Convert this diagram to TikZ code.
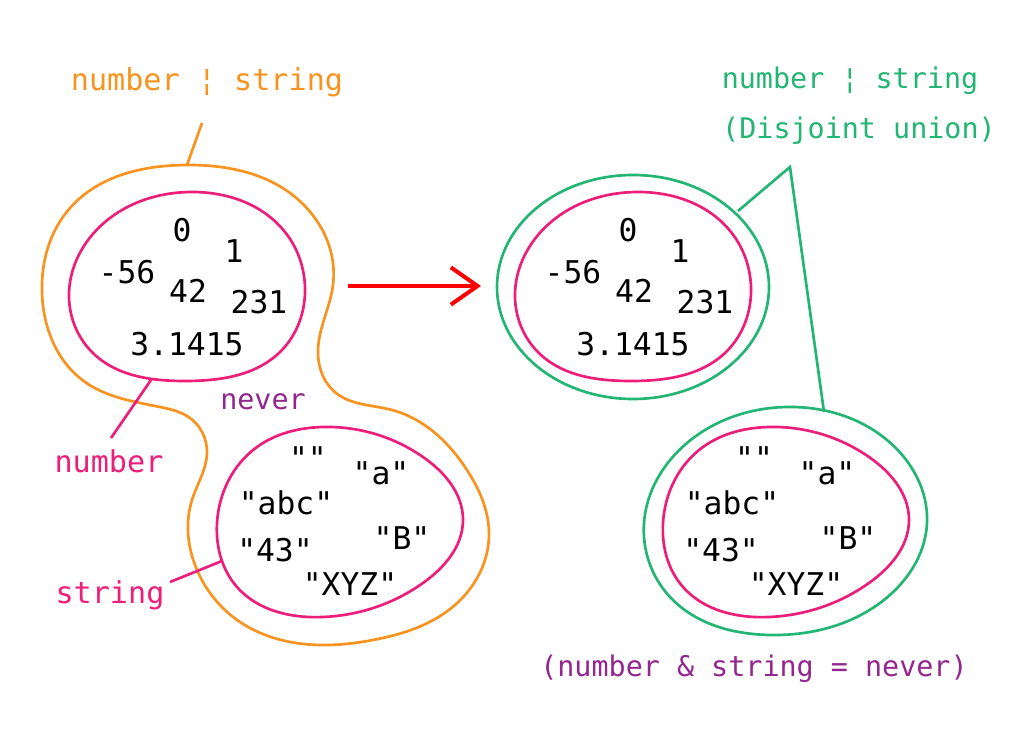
\documentclass[tikz,border=0pt]{standalone}
\usepackage{fontspec}
\newfontfamily\dmono{DejaVu Sans Mono}
\usetikzlibrary{arrows.meta,hobby}
\definecolor{orng}{RGB}{247,147,30}
\definecolor{pnk}{RGB}{237,30,121}
\definecolor{grn}{RGB}{34,181,115}
\definecolor{prp}{RGB}{147,39,143}
\tikzset{
  val/.style={font=\dmono\fontsize{23.5}{28}\selectfont, text=black, inner sep=0pt},
  lbl/.style={font=\dmono\fontsize{22.6}{27}\selectfont, inner sep=0pt},
  slbl/.style={font=\dmono\fontsize{21.3}{26}\selectfont, inner sep=0pt},
  outline/.style={line width=2pt},
  pointer/.style={line width=2pt},
}
\begin{document}
\begin{tikzpicture}[x=0.75pt,y=-0.75pt]
\useasboundingbox (0,0) rectangle (1033,730);

% ---------- left: union ----------
\draw[orng,outline,use Hobby shortcut,closed=true]
 (187,165) .. (290,193) .. (333,285) .. (318,350) .. (336,393) .. (392,410) ..
 (467,470) .. (489,535) .. (455,605) .. (373,640) .. (320,645) .. (240,622) ..
 (195,565) .. (192,500) .. (207,452) .. (190,418) .. (160,407) .. (85,382) ..
 (42,293) .. (70,208);

\draw[pnk,outline,use Hobby shortcut,closed=true]
 (190,192) .. (285,232) .. (305,287) .. (280,352) .. (185,381) .. (95,355) ..
 (69,297) .. (105,222);

\draw[pnk,outline,use Hobby shortcut,closed=true]
 (323,427) .. (423,457) .. (463,520) .. (423,583) .. (323,617) .. (237,587) ..
 (217,523) .. (257,447);

\node[val] (n0) at (182,230) {0};
\node[val] (n1) at (234,251) {1};
\node[val] (n56) at (127,272) {-56};
\node[val] (n42) at (188,291) {42};
\node[val] (n231) at (259,302) {231};
\node[val] (npi) at (187,344) {3.1415};

\node[val] (se) at (308,458) {""};
\node[val] (sa) at (381,473) {"a"};
\node[val] (sabc) at (286,503) {"abc"};
\node[val] (sB) at (402,538) {"B"};
\node[val] (s43) at (275,550) {"43"};
\node[val] (sxyz) at (350,584) {"XYZ"};

\node[lbl,text=orng] (ulab) at (207,82) {number ¦ string};
\coordinate (uc1) at (202,123);
\coordinate (uc2) at (187,165);
\draw[orng,pointer] (uc1) -- (uc2);

\node[lbl,text=pnk] (numlab) at (109,461) {number};
\coordinate (nc1) at (111,438);
\coordinate (nc2) at (151,380);
\draw[pnk,pointer] (nc1) -- (nc2);

\node[lbl,text=pnk] (strlab) at (110,595) {string};
\coordinate (sc1) at (170,582);
\coordinate (sc2) at (222,561);
\draw[pnk,pointer] (sc1) -- (sc2);

\node[slbl,text=prp] (neverlab) at (263,402) {never};

% ---------- arrow ----------
\coordinate (a1) at (348,286);
\coordinate (a2) at (481,286);
\draw[red,line width=3pt,-{Straight Barb[length=20pt,width=28pt]}] (a1) -- (a2);

% ---------- right: disjoint union ----------
\draw[grn,outline] (633,287) ellipse [x radius=136, y radius=112];
\draw[grn,outline,use Hobby shortcut,closed=true]
 (787,407) .. (887,440) .. (927,523) .. (880,603) .. (770,635) .. (670,597) ..
 (644,523) .. (687,443);

\begin{scope}[shift={(446,0)}]
\draw[pnk,outline,use Hobby shortcut,closed=true]
 (190,192) .. (285,232) .. (305,287) .. (280,352) .. (185,381) .. (95,355) ..
 (69,297) .. (105,222);
\draw[pnk,outline,use Hobby shortcut,closed=true]
 (323,427) .. (423,457) .. (463,520) .. (423,583) .. (323,617) .. (237,587) ..
 (217,523) .. (257,447);
\node[val] (m0) at (182,230) {0};
\node[val] (m1) at (234,251) {1};
\node[val] (m56) at (127,272) {-56};
\node[val] (m42) at (188,291) {42};
\node[val] (m231) at (259,302) {231};
\node[val] (mpi) at (187,344) {3.1415};
\node[val] (te) at (308,458) {""};
\node[val] (ta) at (381,473) {"a"};
\node[val] (tabc) at (286,503) {"abc"};
\node[val] (tB) at (402,538) {"B"};
\node[val] (t43) at (275,550) {"43"};
\node[val] (txyz) at (350,584) {"XYZ"};
\end{scope}

\node[slbl,text=grn] (dlab1) at (850,81) {number ¦ string};
\node[slbl,text=grn] (dlab2) at (859,131) {(Disjoint union)};
\coordinate (gc1) at (738,211);
\coordinate (gc2) at (790,167);
\coordinate (gc3) at (824,412);
\draw[grn,pointer,line join=miter] (gc1) -- (gc2) -- (gc3);

\node[slbl,text=prp] (neverdef) at (754,669) {(number \& string = never)};
\end{tikzpicture}
\end{document}
